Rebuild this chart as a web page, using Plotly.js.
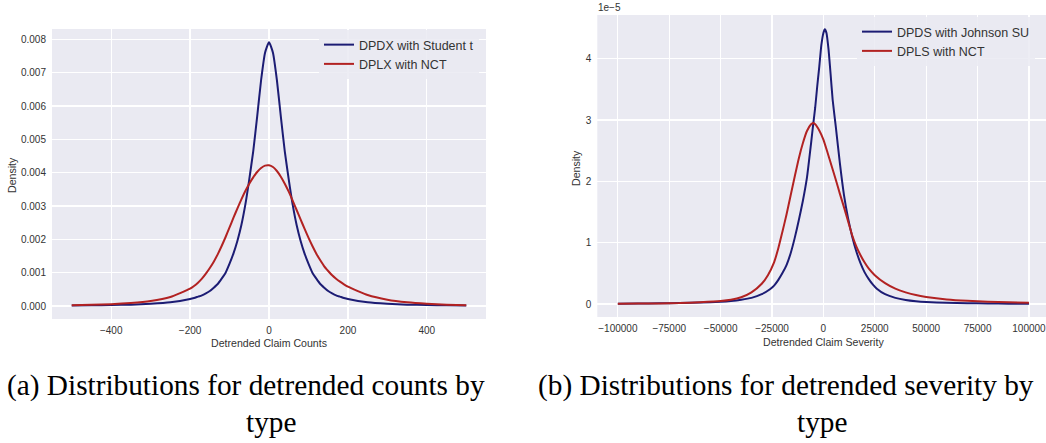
<!DOCTYPE html>
<html>
<head>
<meta charset="utf-8">
<script src="https://cdn.plot.ly/plotly-3.0.1.min.js"></script>
<style>
  html, body { margin: 0; padding: 0; background: #ffffff; }
  #chart { width: 1046px; height: 443px; }
</style>
</head>
<body>
<div id="chart"></div>
<script>
// ---- Panel (a): detrended claim counts, density in units of 1e-3 ----
const countsStudentX = [-500,-450,-400,-350,-300,-250,-200,-190,-180,-170,-160,-150,-140,-130,-120,-110,-100,-90,-80,-70,-60,-50,-40,-30,-20,-10,0,10,20,30,40,50,60,70,80,90,100,110,120,130,140,150,160,170,180,190,200,250,300,350,400,450,500];
const countsStudentY = [0.015,0.02,0.03,0.04,0.065,0.11,0.21,0.24,0.28,0.32,0.38,0.45,0.55,0.66,0.82,1.00,1.27,1.58,1.96,2.43,3.04,3.80,4.64,5.68,6.78,7.60,7.91,7.60,6.78,5.68,4.64,3.80,3.04,2.43,1.96,1.58,1.27,1.00,0.82,0.66,0.55,0.45,0.38,0.32,0.28,0.24,0.21,0.11,0.065,0.04,0.03,0.02,0.015];

const countsNctX = [-500,-450,-400,-350,-300,-250,-200,-190,-180,-170,-160,-150,-140,-130,-120,-110,-100,-90,-80,-70,-60,-50,-40,-30,-20,-10,0,10,20,30,40,50,60,70,80,90,100,110,120,130,140,150,160,170,180,190,200,250,300,350,400,450,500];
const countsNctY = [0.02,0.035,0.055,0.09,0.15,0.27,0.52,0.60,0.70,0.82,0.97,1.14,1.33,1.55,1.80,2.07,2.36,2.65,2.93,3.20,3.45,3.67,3.86,4.02,4.14,4.21,4.22,4.17,4.05,3.88,3.67,3.43,3.16,2.88,2.60,2.32,2.05,1.80,1.57,1.37,1.19,1.05,0.92,0.82,0.73,0.65,0.58,0.33,0.19,0.11,0.065,0.04,0.02];

const countsTicksX = [-400,-200,0,200,400];
const countsTicksY = [0,0.001,0.002,0.003,0.004,0.005,0.006,0.007,0.008];

// ---- Panel (b): detrended claim severity, density in units of 1e-5 ----
const sevJohnsonX = [-100000,-90000,-80000,-70000,-60000,-50000,-45000,-40000,-35000,-30000,-26000,-24000,-22000,-20000,-18000,-16000,-14000,-12000,-10000,-8000,-6000,-5000,-4000,-3000,-2000,-1000,0,700,1500,2500,3500,4500,6000,8000,10000,12000,14000,16000,18000,20000,22000,24000,26000,30000,35000,40000,45000,50000,60000,70000,80000,90000,100000];
const sevJohnsonY = [0.005,0.008,0.011,0.016,0.024,0.038,0.05,0.07,0.10,0.16,0.24,0.30,0.39,0.50,0.63,0.82,1.07,1.36,1.68,2.06,2.62,2.92,3.20,3.55,3.87,4.22,4.42,4.48,4.42,4.15,3.75,3.33,2.90,2.30,1.78,1.40,1.10,0.86,0.67,0.52,0.41,0.32,0.25,0.16,0.10,0.065,0.045,0.033,0.02,0.013,0.009,0.006,0.004];

const sevNctX = [-100000,-90000,-80000,-70000,-60000,-50000,-45000,-40000,-35000,-30000,-27000,-24000,-22000,-20000,-18000,-16000,-14000,-12000,-10000,-8000,-6000,-5000,-4000,-2000,0,2000,4000,6000,8000,10000,12000,14000,16000,18000,20000,22000,25000,30000,35000,40000,45000,50000,60000,70000,80000,90000,100000];
const sevNctY = [0.005,0.007,0.01,0.015,0.03,0.05,0.07,0.11,0.19,0.33,0.47,0.68,0.90,1.17,1.45,1.76,2.07,2.37,2.62,2.82,2.93,2.95,2.93,2.83,2.68,2.47,2.25,2.03,1.80,1.58,1.35,1.12,0.94,0.80,0.68,0.58,0.47,0.34,0.25,0.19,0.145,0.115,0.075,0.052,0.037,0.027,0.02];

const sevTicksX = [-100000,-75000,-50000,-25000,0,25000,50000,75000,100000];
const sevTicksY = [0,1,2,3,4];

const seriesNames = ['DPDX with Student t','DPLX with NCT','DPDS with Johnson SU','DPLS with NCT'];
const captions = ['(a) Distributions for detrended counts by','type','(b) Distributions for detrended severity by','type'];

// ---- drawing ----
const W = 1046, H = 443;
const px = v => v / W;
const py = v => 1 - v / H;
const BLUE = '#1c1c74';
const RED = '#b22222';
const SANS = 'Liberation Sans, Arial, sans-serif';
const SERIF = 'Liberation Serif, Times New Roman, serif';
const TXT = '#333333';

const lineStyle = c => ({color: c, width: 2, shape: 'spline', smoothing: 0.5});

const traces = [
  {x: countsStudentX, y: countsStudentY.map(v => v * 1e-3), name: seriesNames[0], xaxis: 'x', yaxis: 'y', legend: 'legend', mode: 'lines', line: lineStyle(BLUE)},
  {x: countsNctX, y: countsNctY.map(v => v * 1e-3), name: seriesNames[1], xaxis: 'x', yaxis: 'y', legend: 'legend', mode: 'lines', line: lineStyle(RED)},
  {x: sevJohnsonX, y: sevJohnsonY.map(v => v * 1e-5), name: seriesNames[2], xaxis: 'x2', yaxis: 'y2', legend: 'legend2', mode: 'lines', line: lineStyle(BLUE)},
  {x: sevNctX, y: sevNctY.map(v => v * 1e-5), name: seriesNames[3], xaxis: 'x2', yaxis: 'y2', legend: 'legend2', mode: 'lines', line: lineStyle(RED)}
];

const axBase = {
  showgrid: true, gridcolor: '#ffffff', gridwidth: 1.3, zeroline: false, showline: false,
  ticks: '', tickfont: {family: SANS, size: 10, color: TXT}, fixedrange: true
};

const legendBase = {
  bgcolor: 'rgba(234,234,242,0.85)', borderwidth: 0, font: {family: SANS, size: 12.5, color: TXT},
  xanchor: 'left', yanchor: 'top', tracegroupgap: 0, itemwidth: 30
};

const layout = {
  width: W, height: H,
  margin: {l: 0, r: 0, t: 0, b: 0},
  paper_bgcolor: '#ffffff',
  plot_bgcolor: '#eaeaf2',
  showlegend: true,
  xaxis: Object.assign({}, axBase, {domain: [px(52), px(486)], range: [-550, 550], tickvals: countsTicksX, anchor: 'y', ticklabelstandoff: 4}),
  yaxis: Object.assign({}, axBase, {domain: [1 - 319 / H, 1 - 29 / H], range: [-0.00039, 0.00831], tickvals: countsTicksY, tickformat: '.3f', anchor: 'x', ticklabelstandoff: 5}),
  xaxis2: Object.assign({}, axBase, {domain: [px(597.3), 1], range: [-110000, 108300], tickvals: sevTicksX, tickformat: 'd', anchor: 'y2', ticklabelstandoff: 4, ticklabeloverflow: 'allow'}),
  yaxis2: Object.assign({}, axBase, {domain: [1 - 317 / H, 1 - 15 / H], range: [-0.212e-5, 4.712e-5], tickvals: sevTicksY.map(v => v * 1e-5), ticktext: sevTicksY.map(String), anchor: 'x2', ticklabelstandoff: 5}),
  legend: Object.assign({}, legendBase, {x: px(319), y: py(30)}),
  legend2: Object.assign({}, legendBase, {x: px(857), y: py(17)}),
  annotations: [
    {text: 'Detrended Claim Counts', x: px(269), y: py(343), xref: 'paper', yref: 'paper', showarrow: false, xanchor: 'center', yanchor: 'middle', font: {family: SANS, size: 10.6, color: TXT}},
    {text: 'Density', x: px(12), y: py(175), xref: 'paper', yref: 'paper', showarrow: false, textangle: -90, xanchor: 'center', yanchor: 'middle', font: {family: SANS, size: 10.6, color: TXT}},
    {text: 'Detrended Claim Severity', x: px(823), y: py(342), xref: 'paper', yref: 'paper', showarrow: false, xanchor: 'center', yanchor: 'middle', font: {family: SANS, size: 10.6, color: TXT}},
    {text: 'Density', x: px(576), y: py(168), xref: 'paper', yref: 'paper', showarrow: false, textangle: -90, xanchor: 'center', yanchor: 'middle', font: {family: SANS, size: 10.6, color: TXT}},
    {text: '1e\u22125', x: px(596), y: py(8), xref: 'paper', yref: 'paper', showarrow: false, xanchor: 'left', yanchor: 'middle', font: {family: SANS, size: 10, color: TXT}},
    {text: captions[0], x: px(5), y: py(385), xref: 'paper', yref: 'paper', showarrow: false, xanchor: 'left', yanchor: 'middle', font: {family: SERIF, size: 29.3, color: '#000000'}},
    {text: captions[1], x: px(271), y: py(422), xref: 'paper', yref: 'paper', showarrow: false, xanchor: 'center', yanchor: 'middle', font: {family: SERIF, size: 29.3, color: '#000000'}},
    {text: captions[2], x: px(536), y: py(385), xref: 'paper', yref: 'paper', showarrow: false, xanchor: 'left', yanchor: 'middle', font: {family: SERIF, size: 29.3, color: '#000000'}},
    {text: captions[3], x: px(822), y: py(422), xref: 'paper', yref: 'paper', showarrow: false, xanchor: 'center', yanchor: 'middle', font: {family: SERIF, size: 29.3, color: '#000000'}}
  ]
};

Plotly.newPlot('chart', traces, layout, {displayModeBar: false, staticPlot: true});
</script>
</body>
</html>
